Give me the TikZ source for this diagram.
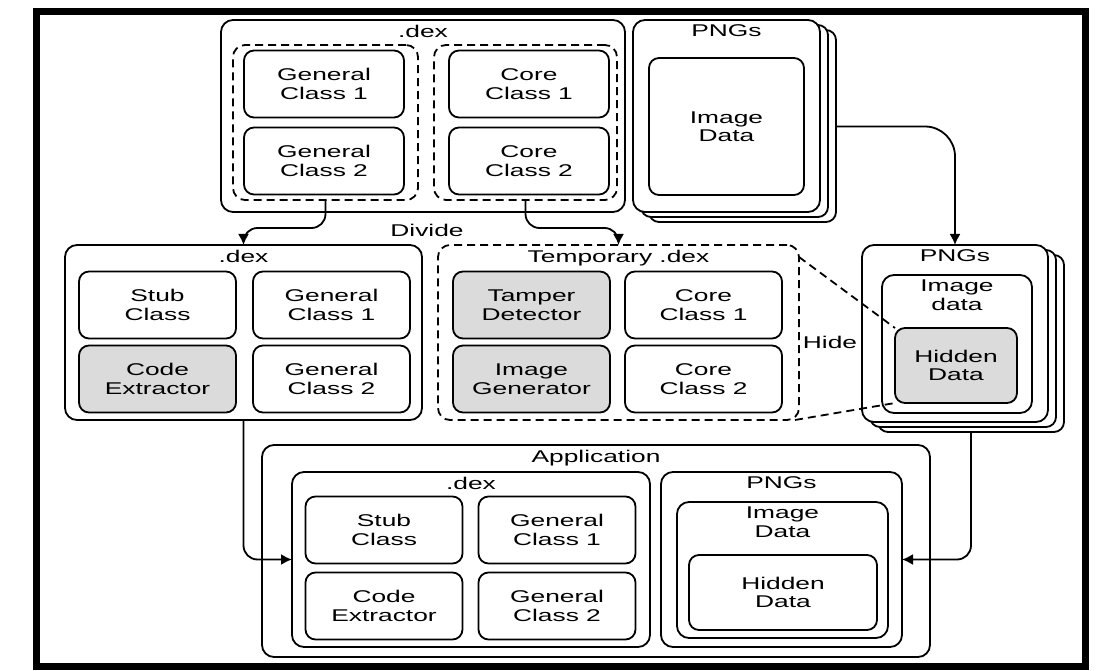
\documentclass[tikz,border=0pt]{standalone}
\usepackage{fontspec}
\setmainfont{Liberation Sans}[FakeStretch=1.55]
\usetikzlibrary{arrows.meta,positioning}

\begin{document}
\begin{tikzpicture}[x=1pt,y=-1pt,>={Latex[length=11pt,width=11pt]},
  line width=1.8pt, font=\fontsize{17}{18.5}\selectfont,
  box/.style={draw, rounded corners=10pt, inner sep=0pt, outer sep=0pt, align=center, fill=white},
  cls/.style={box, minimum width=157pt, minimum height=67pt},
  added/.style={fill=black!14},
  cont/.style={box, rounded corners=12pt, label={[anchor=north, align=center, inner sep=4pt]north:#1}},
  grp/.style={draw, dash pattern=on 8pt off 5pt, rounded corners=12pt, inner sep=0pt, outer sep=0pt},
  wh/.style args={#1x#2}{minimum width=#1pt, minimum height=#2pt}]
  \useasboundingbox (0,0) rectangle (1114,671);
  \draw[line width=7pt] (36.5,11.5) rectangle (1085.5,666.5);

  \node[cont=.dex, wh=404x192] (dexA) at (423,116) {};
  \node[grp, wh=185x155] (grpGen) at (325.5,122.5) {};
  \node[grp, wh=183x155] (grpCore) at (525.5,122.5) {};
  \node[cls, minimum width=160pt] (genA1) at (324,84) {General\\Class 1};
  \node[cls, minimum width=160pt, below=10pt of genA1] (genA2) {General\\Class 2};
  \node[cls, minimum width=160pt] (coreA1) at (529,84) {Core\\Class 1};
  \node[cls, minimum width=160pt, below=10pt of coreA1] (coreA2) {Core\\Class 2};

  \foreach \i in {2,1}
    \node[box, wh=187x192] (pngA\i) at (726.5+8*\i,116+5*\i) {};
  \node[cont=PNGs, wh=187x192] (pngA) at (726.5,116) {};
  \node[box, wh=155x137] (imgA) at (726.5,126.5) {Image\\Data};

  \node[cont=.dex, wh=357x175] (dexB) at (243.5,332.5) {};
  \node[cls] (stubB) at (157.5,305) {Stub\\Class};
  \node[cls, right=17pt of stubB] (genB1) {General\\Class 1};
  \node[cls, added, below=7pt of stubB] (codeB) {Code\\Extractor};
  \node[cls, below=7pt of genB1] (genB2) {General\\Class 2};

  \node[grp, wh=361x175, label={[anchor=north, inner sep=4pt]north:Temporary .dex}] (tmp) at (618.5,332.5) {};
  \node[cls, added] (tamper) at (531.5,305) {Tamper\\Detector};
  \node[cls, right=15pt of tamper] (coreB1) {Core\\Class 1};
  \node[cls, added, below=7pt of tamper] (imgGen) {Image\\Generator};
  \node[cls, below=7pt of coreB1] (coreB2) {Core\\Class 2};

  \foreach \i in {2,1}
    \node[box, wh=186x177] (pngC\i) at (955+8*\i,333.5+5*\i) {};
  \node[cont=PNGs, wh=186x177] (pngC) at (955,333.5) {};
  \node[cont={Image\\data}, wh=150x138] (imgC) at (957,344) {};
  \node[box, added, wh=122x75] (hidC) at (956,365.5) {Hidden\\Data};

  \node[cont=Application, wh=668x212] (app) at (596,551) {};
  \node[cont=.dex, wh=358x175] (dexE) at (471,559.5) {};
  \node[cls] (stubE) at (384,530) {Stub\\Class};
  \node[cls, right=16pt of stubE] (genE1) {General\\Class 1};
  \node[cls, below=9pt of stubE] (codeE) {Code\\Extractor};
  \node[cls, below=9pt of genE1] (genE2) {General\\Class 2};
  \node[cont=PNGs, wh=241x175] (pngF) at (781.5,559.5) {};
  \node[cont={Image\\Data}, wh=211x136] (imgF) at (782.5,570) {};
  \node[box, wh=188x75] (hidF) at (783,592.5) {Hidden\\Data};

  \node (divide) at (427,230) {Divide};
  \node (hide) at (830,342) {Hide};

  \draw[->, rounded corners=14pt] (grpGen.south) -- ++(0,28) -| (dexB.north);
  \draw[->, rounded corners=14pt] (grpCore.south) -- ++(0,28) -| (tmp.north);
  \draw[->, rounded corners=30pt] (pngA2.east |- imgA.east) -| (pngC.north);
  \draw[dash pattern=on 8pt off 5pt] ([yshift=-12pt]tmp.north east) -- (hidC.north west);
  \draw[dash pattern=on 8pt off 5pt] ([xshift=-4pt]tmp.south east) -- (hidC.south west);
  \draw[->, rounded corners=14pt] (dexB.south) |- (dexE.west);
  \draw[->, rounded corners=14pt] (pngC2.south) |- (pngF.east);
\end{tikzpicture}
\end{document}
